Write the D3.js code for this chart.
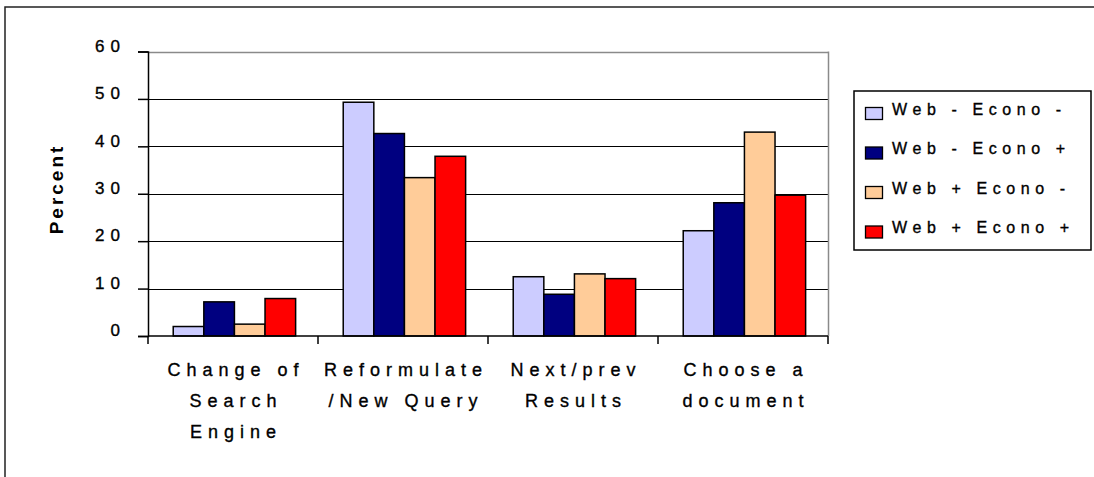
<!DOCTYPE html>
<html>
<head>
<meta charset="utf-8">
<script src="https://cdn.jsdelivr.net/npm/d3@7"></script>
<style>
  html, body { margin: 0; padding: 0; background: #fff; }
  svg { display: block; }
  text { font-family: "Liberation Sans", Arial, sans-serif; fill: #000; }
  .lbl { stroke: #000; stroke-width: 0.35px; }
</style>
</head>
<body>
<svg id="chart" width="1094" height="477"></svg>
<script>
// ---- data ----
const categories = [
  ["Change of", "Search", "Engine"],
  ["Reformulate", "/New Query"],
  ["Next/prev", "Results"],
  ["Choose a", "document"]
];
const categoryKeys = ["Change of Search Engine", "Reformulate /New Query", "Next/prev Results", "Choose a document"];
const seriesNames = ["Web - Econo -", "Web - Econo +", "Web + Econo -", "Web + Econo +"];
const seriesColors = ["#CCCCFF", "#000080", "#FFCC99", "#FF0000"];
const webMinusEconoMinus = [2.0, 49.3, 12.5, 22.2];
const webMinusEconoPlus  = [7.2, 42.7, 8.8, 28.1];
const webPlusEconoMinus  = [2.5, 33.4, 13.1, 43.0];
const webPlusEconoPlus   = [7.9, 37.9, 12.1, 29.7];
const seriesValues = [webMinusEconoMinus, webMinusEconoPlus, webPlusEconoMinus, webPlusEconoPlus];
const yTicks = [0, 10, 20, 30, 40, 50, 60];
const yTitle = "Percent";

// ---- layout ----
const svg = d3.select("#chart");
const plot = { left: 148, right: 828, top: 51.5, bottom: 336 };

// outer frame
svg.append("rect").attr("x", 5).attr("y", 7).attr("width", 1200).attr("height", 600)
  .attr("fill", "none").attr("stroke", "#222").attr("stroke-width", 1.5);

const y = d3.scaleLinear().domain([0, 60]).range([plot.bottom, plot.top]);
const x0 = d3.scaleBand().domain(categoryKeys).range([plot.left, plot.right])
  .paddingInner(0.28).paddingOuter(0.14).align(0.53);
const x1 = d3.scaleBand().domain(seriesNames).range([0, x0.bandwidth()]);

// gridlines
const grid = svg.append("g");
yTicks.filter(t => t > 0).forEach(t => {
  grid.append("line")
    .attr("x1", plot.left).attr("x2", plot.right)
    .attr("y1", Math.round(y(t)) + 0.5).attr("y2", Math.round(y(t)) + 0.5)
    .attr("stroke", t === 60 ? "#8a8a8a" : "#000").attr("stroke-width", t === 60 ? 1.5 : 1.2);
});
// right border of plot area
svg.append("line").attr("x1", plot.right + 0.5).attr("x2", plot.right + 0.5)
  .attr("y1", plot.top).attr("y2", plot.bottom)
  .attr("stroke", "#8a8a8a").attr("stroke-width", 1.5);

// bars
const groups = svg.append("g").selectAll("g")
  .data(categoryKeys).join("g")
  .attr("transform", d => `translate(${x0(d)},0)`);
groups.selectAll("rect")
  .data((d, ci) => seriesNames.map((s, si) => ({ s, si, v: seriesValues[si][ci] })))
  .join("rect")
  .attr("x", d => x1(d.s))
  .attr("width", x1.bandwidth())
  .attr("y", d => y(d.v))
  .attr("height", d => y(0) - y(d.v))
  .attr("fill", d => seriesColors[d.si])
  .attr("stroke", "#000").attr("stroke-width", 1.5);

// y axis
const yAxis = svg.append("g").attr("transform", `translate(${plot.left},0)`)
  .call(d3.axisLeft(y).tickValues(yTicks).tickSize(10).tickFormat(d => d));
yAxis.select(".domain").attr("stroke", "#000").attr("stroke-width", 1.5);
yAxis.selectAll(".tick line").attr("stroke", "#000").attr("stroke-width", 1.5);
yAxis.selectAll(".tick text")
  .attr("class", "lbl")
  .attr("x", -28 + 6).attr("dy", "-0.02em")
  .style("font-size", "17px").style("letter-spacing", "6px")
  .style("font-family", "'Liberation Sans', Arial, sans-serif");

// x axis
const xAxisG = svg.append("g");
xAxisG.append("line").attr("x1", plot.left).attr("x2", plot.right)
  .attr("y1", plot.bottom).attr("y2", plot.bottom)
  .attr("stroke", "#000").attr("stroke-width", 1.5);
const catW = (plot.right - plot.left) / categoryKeys.length;
d3.range(categoryKeys.length + 1).forEach(i => {
  const xx = plot.left + i * catW;
  xAxisG.append("line").attr("x1", xx).attr("x2", xx)
    .attr("y1", plot.bottom).attr("y2", plot.bottom + 8)
    .attr("stroke", "#000").attr("stroke-width", 1.5);
});
categories.forEach((lines, i) => {
  const cx = plot.left + (i + 0.5) * catW;
  lines.forEach((ln, j) => {
    xAxisG.append("text")
      .attr("class", "lbl")
      .attr("x", cx + 3).attr("y", 376 + j * 31)
      .attr("text-anchor", "middle")
      .style("font-size", "18px").style("letter-spacing", "6px")
      .text(ln);
  });
});

// y title
svg.append("text")
  .attr("transform", `translate(63,${190.5 - 1.5}) rotate(-90)`)
  .attr("text-anchor", "middle")
  .style("font-size", "19px").style("font-weight", "bold").style("letter-spacing", "3px")
  .text(yTitle);

// legend
const lg = svg.append("g");
lg.append("rect").attr("x", 854).attr("y", 91).attr("width", 237).attr("height", 159)
  .attr("fill", "#fff").attr("stroke", "#000").attr("stroke-width", 1.5);
seriesNames.forEach((s, i) => {
  const cy = 113.5 + i * 39.5;
  lg.append("rect").attr("x", 865.5).attr("y", cy - 6).attr("width", 17).attr("height", 12)
    .attr("fill", seriesColors[i]).attr("stroke", "#000").attr("stroke-width", 1.3);
  lg.append("text").attr("class", "lbl").attr("x", 892).attr("y", cy + 1)
    .style("font-size", "16px").style("letter-spacing", "5.6px")
    .text(s);
});
</script>
</body>
</html>
